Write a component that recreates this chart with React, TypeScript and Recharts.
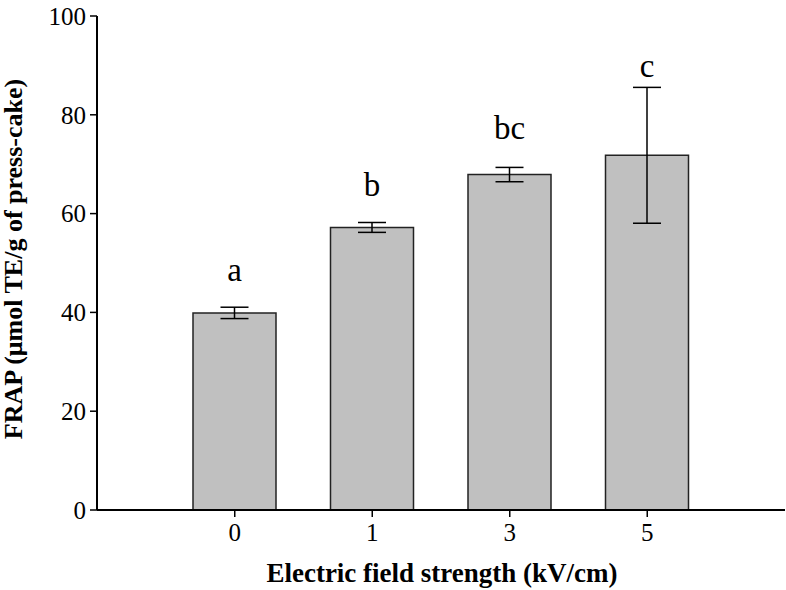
import React from 'react';
import {
  BarChart, Bar, XAxis, YAxis, ErrorBar, LabelList,
} from 'recharts';

const fieldStrength = ['0', '1', '3', '5'];
const frapMean = [39.9, 57.2, 67.9, 71.8];
const frapSd = [1.15, 1.0, 1.45, 13.75];
const letters = ['a', 'b', 'bc', 'c'];
// baseline of each significance letter, in FRAP units
const letterAt = [46.3, 63.5, 75.2, 87.6];
const yTicks = [0, 20, 40, 60, 80, 100];

const data = fieldStrength.map((kv, i) => ({
  kv,
  frap: frapMean[i],
  sd: frapSd[i],
  letter: letters[i],
}));

const FONT = '"Liberation Serif", "Times New Roman", serif';

const LetterLabel = (props: any) => {
  const { x, y, width, height, value } = props;
  const i = letters.indexOf(value);
  if (i < 0) return null;
  const pxPerUnit = height / frapMean[i];
  const ly = y + height - letterAt[i] * pxPerUnit;
  return (
    <text x={x + width / 2} y={ly} textAnchor="middle" fontFamily={FONT} fontSize={33} fill="#000">
      {value}
    </text>
  );
};

const App: React.FC = () => {
  return (
    <div style={{ position: 'relative', width: 786, height: 590, background: '#fff' }}>
      <style>{'body { margin: 0; }'}</style>
      <BarChart
        width={786}
        height={590}
        data={data}
        margin={{ top: 16, right: 1, left: 0, bottom: 0 }}
      >
        <XAxis
          dataKey="kv"
          height={80}
          padding={{ left: 69, right: 69 }}
          axisLine={{ stroke: '#000', strokeWidth: 2 }}
          tickLine={{ stroke: '#000', strokeWidth: 1.5 }}
          tickSize={7}
          tickMargin={6}
          tick={{ fill: '#000', fontSize: 25, fontFamily: FONT }}
        />
        <YAxis
          width={97}
          domain={[0, 100]}
          ticks={yTicks}
          axisLine={{ stroke: '#000', strokeWidth: 2 }}
          tickLine={{ stroke: '#000', strokeWidth: 1.5 }}
          tickSize={7}
          tickMargin={4}
          tick={{ fill: '#000', fontSize: 25, fontFamily: FONT }}
        />
        <Bar
          dataKey="frap"
          barSize={83}
          fill="#c0c0c0"
          stroke="#222"
          strokeWidth={1.5}
          isAnimationActive={false}
        >
          <ErrorBar dataKey="sd" width={14} stroke="#000" strokeWidth={1.5} direction="y" />
          <LabelList dataKey="letter" content={<LetterLabel />} />
        </Bar>
      </BarChart>
      <svg
        width={786}
        height={590}
        style={{ position: 'absolute', left: 0, top: 0, pointerEvents: 'none' }}
      >
        <text
          x={442}
          y={582}
          textAnchor="middle"
          fontFamily={FONT}
          fontWeight="bold"
          fontSize={27}
          fill="#000"
        >
          Electric field strength (kV/cm)
        </text>
        <text
          transform="translate(22, 259) rotate(-90)"
          textAnchor="middle"
          fontFamily={FONT}
          fontWeight="bold"
          fontSize={26}
          fill="#000"
        >
          FRAP (μmol TE/g of press-cake)
        </text>
      </svg>
    </div>
  );
};

export default App;
